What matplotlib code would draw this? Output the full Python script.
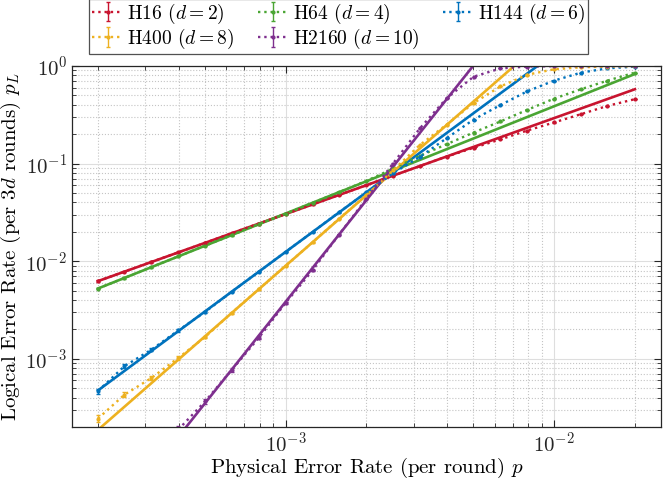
import numpy as np
import matplotlib
matplotlib.use("Agg")
import matplotlib.pyplot as plt

plt.rcParams['font.family'] = 'cmr10'
plt.rcParams['mathtext.fontset'] = 'cm'
plt.rcParams['axes.unicode_minus'] = False
plt.rcParams['axes.formatter.use_mathtext'] = True

# physical error rates (per round)
p = [2.0e-4, 2.51e-4, 3.16e-4, 3.98e-4, 5.01e-4, 6.31e-4, 7.94e-4, 1.0e-3,
     1.26e-3, 1.58e-3, 2.0e-3, 2.51e-3, 3.16e-3, 3.98e-3, 5.01e-3, 6.31e-3,
     7.94e-3, 1.0e-2, 1.26e-2, 1.58e-2, 2.0e-2]

# logical error rates (per 3d rounds), simulated
pl_h16 = [6.24e-3, 7.83e-3, 9.82e-3, 1.23e-2, 1.54e-2, 1.94e-2, 2.43e-2, 3.04e-2,
          3.81e-2, 4.78e-2, 6.0e-2, 7.52e-2, 9.43e-2, 0.118, 0.145, 0.177,
          0.218, 0.264, 0.321, 0.390, 0.457]
pl_h64 = [5.24e-3, 6.73e-3, 8.69e-3, 1.12e-2, 1.44e-2, 1.85e-2, 2.39e-2, 3.08e-2,
          3.96e-2, 5.10e-2, 6.65e-2, 8.87e-2, 0.120, 0.158, 0.208, 0.270,
          0.355, 0.463, 0.578, 0.708, 0.855]
pl_h144 = [4.68e-4, 8.41e-4, 1.24e-3, 1.95e-3, 3.02e-3, 4.89e-3, 7.80e-3, 1.245e-2,
           1.99e-2, 3.17e-2, 5.06e-2, 7.94e-2, 0.117, 0.182, 0.282, 0.398,
           0.550, 0.708, 0.855, 0.946, 0.984]
pl_h400 = [2.44e-4, 4.29e-4, 6.35e-4, 1.02e-3, 1.67e-3, 2.97e-3, 5.17e-3, 9.0e-3,
           1.56e-2, 2.72e-2, 4.74e-2, 8.51e-2, 0.155, 0.251, 0.417, 0.617,
           0.813, 0.925, 0.970, 0.984, 0.993]
p_h2160 = p[3:]
pl_h2160 = [1.88e-4, 3.66e-4, 7.74e-4, 1.64e-3, 3.74e-3, 8.07e-3, 1.87e-2, 4.37e-2,
            0.100, 0.229, 0.468, 0.776, 0.944, 0.986, 0.995, 0.997, 0.998, 0.998]

shots = 6e5

# power-law fits: (p start, p end), (pL start, pL end)
fit_h16 = ([2.0e-4, 2.0e-2], [6.25e-3, 0.578])
fit_h64 = ([2.0e-4, 2.0e-2], [5.25e-3, 0.828])
fit_h144 = ([2.0e-4, 8.67e-3], [4.74e-4, 1.0])
fit_h400 = ([2.0e-4, 7.1e-3], [1.87e-4, 1.0])
fit_h2160 = ([4.0e-4, 4.99e-3], [1.61e-4, 1.0])

names = ["H16 ($d=2$)", "H64 ($d=4$)", "H144 ($d=6$)", "H400 ($d=8$)", "H2160 ($d=10$)"]
colors = ["#C8142F", "#4AA533", "#0072BD", "#EDB120", "#7E2F8E"]
xs = [p, p, p, p, p_h2160]
ys = [pl_h16, pl_h64, pl_h144, pl_h400, pl_h2160]
fits = [fit_h16, fit_h64, fit_h144, fit_h400, fit_h2160]

fig = plt.figure(figsize=(6.64, 4.83), dpi=100)
ax = fig.add_axes([0.1084, 0.1159, 0.887, 0.7475])

handles = []
for name, c, x, y, f in zip(names, colors, xs, ys, fits):
    y = np.array(y)
    err = np.sqrt(y * (1 - y) / shots)
    h = ax.errorbar(x, y, yerr=err, fmt=':', marker='.', ms=4, lw=1.7,
                    color=c, capsize=1.5, elinewidth=1.0, label=name)
    handles.append(h)
    ax.plot(f[0], f[1], '-', color=c, lw=1.9)

ax.set_xscale('log')
ax.set_yscale('log')
ax.set_xlim(1.6e-4, 2.5e-2)
ax.set_ylim(2e-4, 1)
ax.grid(True, which='major', color='#dedede', lw=0.8, ls='-')
ax.grid(True, which='minor', color='#c4c4c4', lw=0.8, ls=':')
ax.set_axisbelow(True)
ax.tick_params(which='both', direction='in', top=True, right=True,
               labelsize=15, colors='#262626')
ax.tick_params(which='major', length=5)
ax.tick_params(which='minor', length=3)
for s in ax.spines.values():
    s.set_color('#262626')
    s.set_linewidth(0.9)

ax.set_xlabel("Physical Error Rate (per round) $p$", fontsize=15, labelpad=0)
ax.set_ylabel("Logical Error Rate (per $3d$ rounds) $p_L$", fontsize=15, labelpad=2)

order = [0, 3, 1, 4, 2]
leg = fig.legend([handles[i] for i in order], [names[i] for i in order],
                 loc='upper center', bbox_to_anchor=(0.51, 1.003), ncol=3,
                 fontsize=14, frameon=True, fancybox=False, edgecolor='#262626',
                 handlelength=1.6, handletextpad=0.2, columnspacing=1.2,
                 borderpad=0.15, labelspacing=0.05, borderaxespad=0.0)
leg.get_frame().set_linewidth(0.9)

fig.savefig("out.png", dpi=100)
